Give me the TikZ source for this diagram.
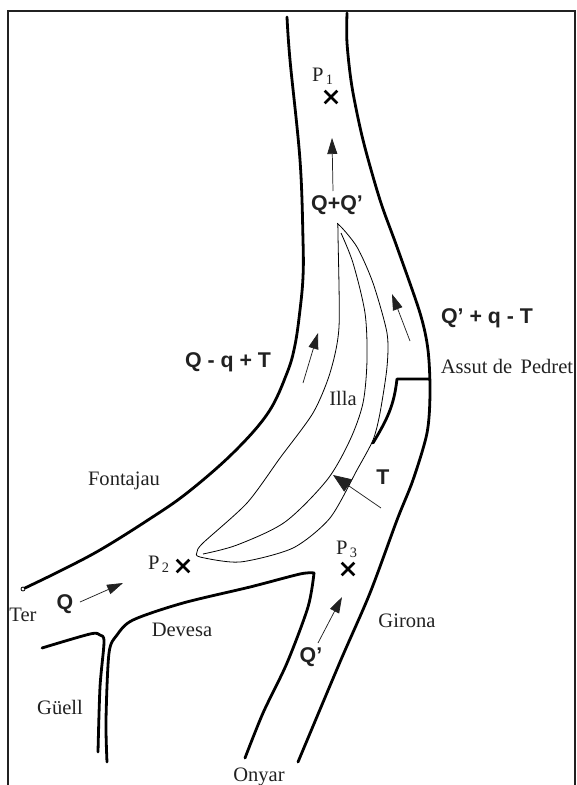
\documentclass[tikz,border=0pt]{standalone}
\usepackage{fontspec}
\setmainfont{Liberation Serif}
\setsansfont{Liberation Sans}
\usetikzlibrary{arrows.meta,shapes.misc}
\definecolor{inkdark}{gray}{0.13}
\tikzset{
  frameline/.style={line width=1.1pt,color=inkdark},
  bank/.style={line width=2.1pt,color=black,line cap=round,line join=round},
  isle/.style={line width=0.6pt,color=black},
  flow/.style={line width=0.55pt,color=inkdark,-{Triangle[length=12pt,width=7.5pt]}},
  bigflow/.style={line width=0.55pt,color=inkdark,-{Triangle[length=14pt,width=11pt]}},
  place/.style={font=\fontsize{15.4}{16}\selectfont,color=inkdark,inner sep=0pt},
  rate/.style={font=\fontsize{16}{16}\selectfont\sffamily\bfseries,color=inkdark,inner sep=0pt},
  crossmark/.style={cross out,draw=black,line width=2pt,minimum size=7.5pt,inner sep=0pt}
}
\begin{document}
\begin{tikzpicture}[x=0.75pt,y=-0.75pt]
\useasboundingbox (0,0) rectangle (576,785);
\draw[frameline] (8,785) -- (8,11) -- (575,11) -- (575,785);
% river banks
\draw[bank] plot[smooth,tension=0.6] coordinates {(25,588) (60,571) (100,550) (148,520) (187,493) (233,453) (268,413) (287,373) (295,345) (300,310) (303,277) (303,240) (300,160) (290,60) (287,17)};
\draw[bank] plot[smooth,tension=0.5] coordinates {(347,13) (347,43) (352,87) (363,140) (380,200) (397,247) (420,313) (428,350) (430,393) (427,433) (413,480) (397,520) (370,593) (340,662) (298,762)};
\draw[bank] plot[smooth,tension=0.5] coordinates {(107,762) (106,720) (109,653) (117,635) (133,620) (183,603) (250,587) (300,574) (314,573)};
\draw[bank] plot[smooth,tension=0.5] coordinates {(314,573) (308,607) (287,663) (263,713) (245,758)};
\draw[bank] plot[smooth,tension=0.5] coordinates {(42,648) (90,634) (100,635) (104,642) (100,687) (98,752)};
\draw[isle] (23,589) circle (2);
% island
\draw[isle] plot[smooth cycle,tension=0.45] coordinates {(339,225) (338,233) (339,327) (330,373) (313,413) (280,458) (247,503) (203,543) (197,552) (200,557) (240,562) (293,548) (330,518) (357,470) (373,440) (380,413) (387,367) (387,333) (373,283) (357,247)};
\draw[isle] plot[smooth,tension=0.5] coordinates {(341,233) (353,263) (365,313) (367,360) (363,403) (350,440) (327,480) (285,522) (237,545) (203,554)};
% weir
\draw[bank] (429,379) -- (397,379) .. controls (394,405) and (388,418) .. (373,443);
% flow arrows
\coordinate (a1) at (333,191); \coordinate (b1) at (332,138);
\coordinate (a2) at (410,341); \coordinate (b2) at (392,294);
\coordinate (a3) at (303,383); \coordinate (b3) at (318,333);
\coordinate (a4) at (381,508); \coordinate (b4) at (333,475);
\coordinate (a5) at (80,602);  \coordinate (b5) at (123,583);
\coordinate (a6) at (318,643); \coordinate (b6) at (342,597);
\draw[flow] (a1) -- (b1);
\draw[flow] (a2) -- (b2);
\draw[flow] (a3) -- (b3);
\draw[bigflow] (a4) -- (b4);
\draw[flow] (a5) -- (b5);
\draw[flow] (a6) -- (b6);
% points
\node[crossmark] (x1) at (331,97) {};
\node[crossmark] (x2) at (183,566) {};
\node[crossmark] (x3) at (348,569) {};
\node[place] (p1) at (323,76) {P\textsubscript{\,1}};
\node[place] (p2) at (159,564) {P\textsubscript{\,2}};
\node[place] (p3) at (347,549) {P\textsubscript{\,3}};
% names
\node[place] (ter) at (23,615) {Ter};
\node[place] (devesa) at (182,630) {Devesa};
\node[place] (guell) at (60,707) {Güell};
\node[place] (onyar) at (259,777) {Onyar};
\node[place] (girona) at (407,621) {Girona};
\node[place] (illa) at (343,398) {Illa};
\node[place] (fontajau) at (124,481) {Fontajau};
\node[place] (assut) at (507,366) {Assut de\, Pedret};
% rates
\node[rate] (qq) at (337,205) {Q+Q’};
\node[rate] (left) at (228,362) {Q - q + T};
\node[rate] (right) at (487,318) {Q’ + q - T};
\node[rate] (t) at (383,477) {T};
\node[rate] (q) at (65,604) {Q};
\node[rate] (qp) at (311,657) {Q’};
\end{tikzpicture}
\end{document}
